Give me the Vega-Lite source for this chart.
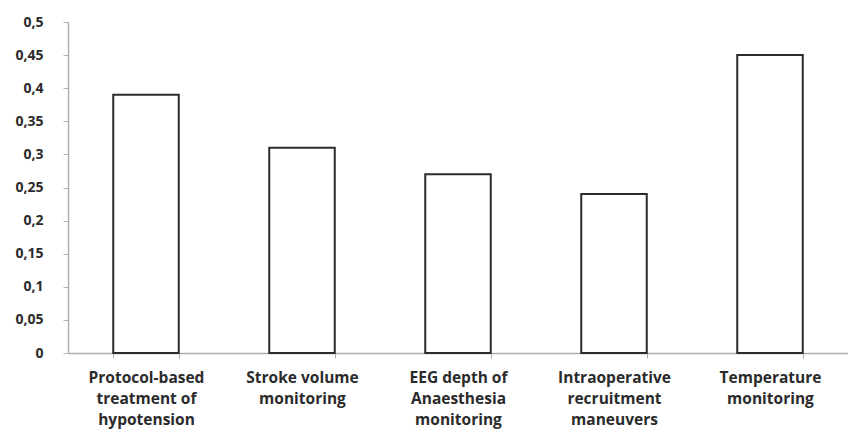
{
  "$schema": "https://vega.github.io/schema/vega-lite/v6.json",
  "autosize": "none",
  "width": 780,
  "height": 331,
  "padding": {"left": 68, "top": 22, "right": 0, "bottom": 84},
  "background": "white",
  "data": {
    "values": [
      {"measure": "Protocol-based\ntreatment of\nhypotension", "value": 0.39},
      {"measure": "Stroke volume\nmonitoring", "value": 0.31},
      {"measure": "EEG depth of\nAnaesthesia\nmonitoring", "value": 0.27},
      {"measure": "Intraoperative\nrecruitment\nmaneuvers", "value": 0.24},
      {"measure": "Temperature\nmonitoring", "value": 0.45}
    ]
  },
  "mark": {"type": "bar", "fill": "white", "stroke": "#2b2b2b", "strokeWidth": 2},
  "encoding": {
    "x": {
      "field": "measure",
      "type": "nominal",
      "sort": null,
      "scale": {"paddingInner": 0.58, "paddingOuter": 0.29},
      "axis": {
        "title": null,
        "labelAngle": 0,
        "labelExpr": "isString(datum.value) ? split(datum.value, '\\n') : ''",
        "labelFont": "Open Sans",
        "labelFontWeight": "bold",
        "labelFontSize": 15.5,
        "labelColor": "#2b2b2b",
        "labelLineHeight": 21,
        "labelBaseline": "top",
        "labelPadding": 12,
        "labelOverlap": false,
        "tickBand": "extent",
        "tickSize": 5,
        "tickColor": "#b0b0b0",
        "domainColor": "#b0b0b0",
        "domainWidth": 1.5
      }
    },
    "y": {
      "field": "value",
      "type": "quantitative",
      "scale": {"domain": [0, 0.5], "nice": false},
      "axis": {
        "title": null,
        "values": [0, 0.05, 0.1, 0.15, 0.2, 0.25, 0.3, 0.35, 0.4, 0.45, 0.5],
        "labelExpr": "replace(format(datum.value, '.2~f'), '.', ',')",
        "labelFont": "Open Sans",
        "labelFontWeight": "bold",
        "labelFontSize": 14,
        "labelColor": "#2b2b2b",
        "labelPadding": 20,
        "tickSize": 5,
        "tickColor": "#b0b0b0",
        "domainColor": "#b0b0b0",
        "domainWidth": 1.5,
        "grid": false
      }
    }
  },
  "config": {"view": {"stroke": null}}
}
